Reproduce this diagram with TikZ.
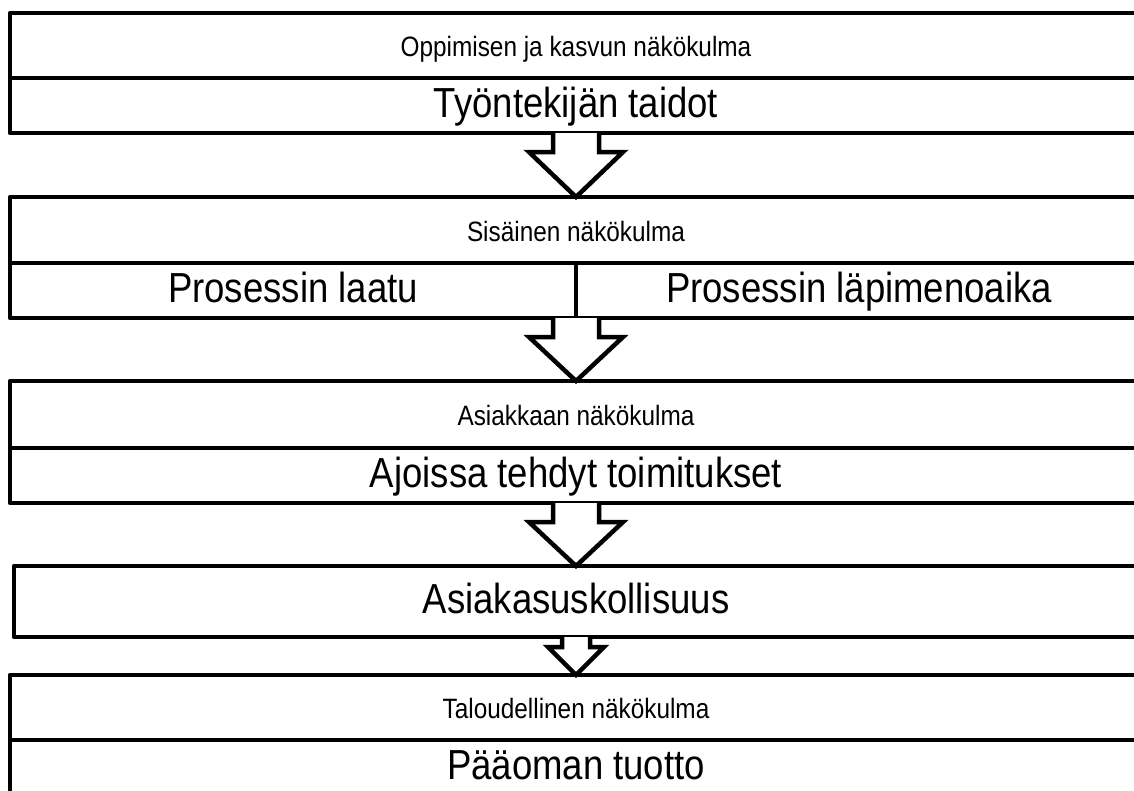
\documentclass[tikz,border=0pt]{standalone}
\usepackage{fontspec}
\newfontfamily\arialn{Liberation Sans}[FakeStretch=0.87]
\usetikzlibrary{calc}
\tikzset{
  cell/.style={draw=black, line width=4.5pt, line join=round, rectangle, inner sep=0pt, outer sep=0pt, fill=white},
  smalltxt/.style={font=\arialn\fontsize{28}{30}\selectfont, text height=23.8pt, text depth=1.4pt},
  bigtxt/.style={font=\arialn\fontsize{42}{44}\selectfont, text height=31.5pt, text depth=7.6pt},
  blockarrow/.style={draw=black, fill=white, line width=4.5pt, line join=miter},
}
% #1 start anchor, #2 tip anchor, #3 half shaft width, #4 shaft length, #5 half head width
\newcommand{\blkarrow}[5]{%
  \draw[blockarrow] ($(#1)+(-#3,0)$) -- ($(#1)+(-#3,#4)$) -- ($(#1)+(-#5,#4)$) -- (#2)
    -- ($(#1)+(#5,#4)$) -- ($(#1)+(#3,#4)$) -- ($(#1)+(#3,0)$);}
\begin{document}
\begin{tikzpicture}[x=1pt, y=-1pt]
\useasboundingbox (0,0) rectangle (1134,790);
\clip (0,0) rectangle (1134,790);
\fill[white] (0,0) rectangle (1134,790);
% box 1
\node[cell, smalltxt, minimum width=1132pt, minimum height=65pt] (t1) at (576,45.5) {Oppimisen ja kasvun näkökulma};
\node[cell, bigtxt, minimum width=1132pt, minimum height=55pt] (b1) at (576,105.5) {Työntekijän taidot};
% box 2
\node[cell, smalltxt, minimum width=1132pt, minimum height=66pt] (t2) at (576,230) {Sisäinen näkökulma};
\node[cell, bigtxt, minimum width=566pt, minimum height=55pt] (b2l) at (293,290.5) {Prosessin laatu};
\node[cell, bigtxt, minimum width=566pt, minimum height=55pt] (b2r) at (859,290.5) {Prosessin läpimenoaika};
% box 3
\node[cell, smalltxt, minimum width=1132pt, minimum height=67pt] (t3) at (576,414.5) {Asiakkaan näkökulma};
\node[cell, bigtxt, minimum width=1132pt, minimum height=55pt] (b3) at (576,475.5) {Ajoissa tehdyt toimitukset};
% box 4
\node[cell, bigtxt, minimum width=1124pt, minimum height=71pt] (m4) at (576,601.5) {Asiakasuskollisuus};
% box 5
\node[cell, smalltxt, minimum width=1132pt, minimum height=65pt] (t5) at (576,707.5) {Taloudellinen näkökulma};
\node[cell, bigtxt, minimum width=1132pt, minimum height=55pt] (b5) at (576,767.5) {Pääoman tuotto};
% arrows
\blkarrow{b1.south}{t2.north}{23}{19}{47}
\blkarrow{b2l.south east}{t3.north}{23}{19}{47}
\blkarrow{b3.south}{m4.north}{23}{19}{47}
\blkarrow{m4.south}{t5.north}{14}{10}{28}
\end{tikzpicture}
\end{document}
